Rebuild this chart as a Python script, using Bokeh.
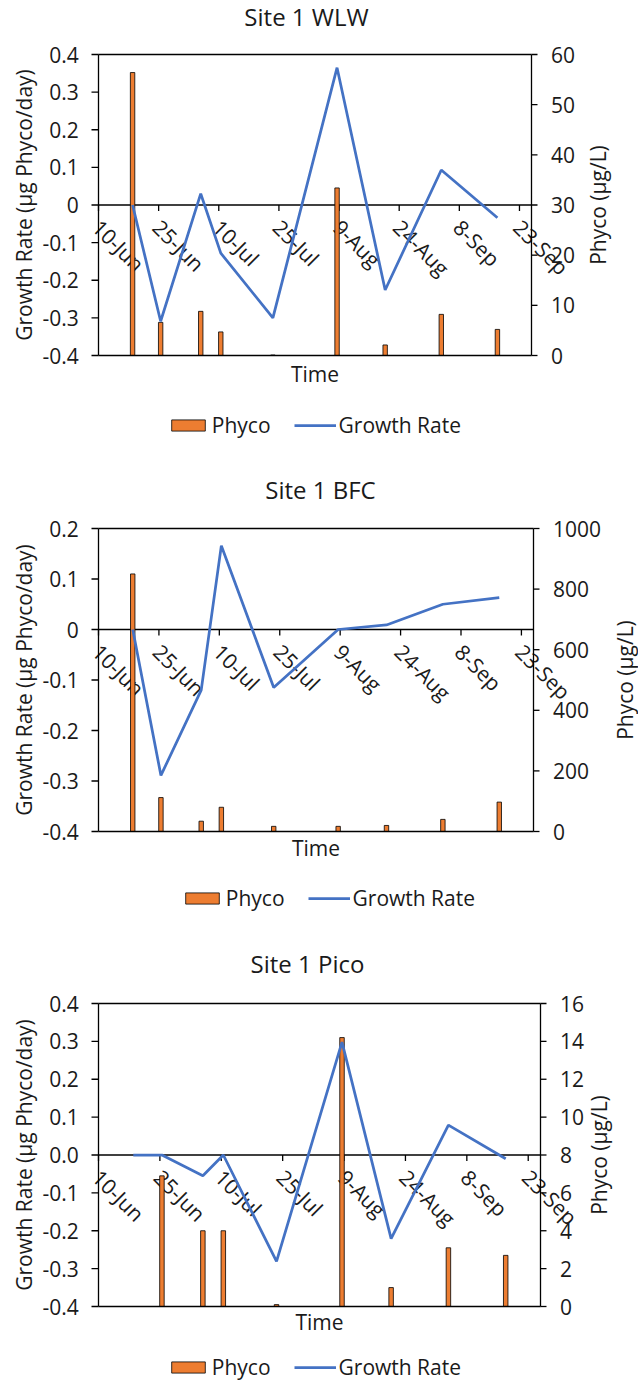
import math

import pandas as pd
from bokeh.core.properties import value
from bokeh.embed import file_html
from bokeh.layouts import column
from bokeh.models import Legend, LegendItem, Range1d
from bokeh.plotting import figure
from bokeh.resources import INLINE

FONT = "Open Sans"
TEXT = "#1a1a1a"
AXIS = "black"
BAR_COLOR = "#ED7D31"
LINE_COLOR = "#4472C4"
FIG_W = 638
BOX_LEFT = 98

# Sampling dates shared by the three sites, and the date axis
sample_dates = ["18-Jun", "25-Jun", "5-Jul", "10-Jul", "23-Jul", "8-Aug", "20-Aug", "3-Sep", "17-Sep"]
date_ticks = ["10-Jun", "25-Jun", "10-Jul", "25-Jul", "9-Aug", "24-Aug", "8-Sep", "23-Sep"]
axis_first_day = "10-Jun"
axis_last_day = "26-Sep"

# Site 1 WLW
wlw_growth = [0.0, -0.309, 0.030, -0.128, -0.300, 0.365, -0.226, 0.093, -0.034]
wlw_phyco = [56.4, 6.6, 8.8, 4.7, 0.1, 33.4, 2.1, 8.2, 5.2]
# Site 1 BFC
bfc_growth = [0.0, -0.289, -0.120, 0.166, -0.115, 0.0, 0.009, 0.050, 0.063]
bfc_phyco = [850, 112, 34, 80, 17, 17, 20, 40, 97]
# Site 1 Pico
pico_growth = [0.0, 0.0, -0.055, 0.0, -0.281, 0.298, -0.221, 0.079, -0.010]
pico_phyco = [0.0, 6.9, 4.0, 4.0, 0.1, 14.2, 1.0, 3.1, 2.7]

# Axis ticks and their labels
growth_ticks = [-0.4, -0.3, -0.2, -0.1, 0.0, 0.1, 0.2, 0.3, 0.4]
wlw_growth_labels = ["-0.4", "-0.3", "-0.2", "-0.1", "0", "0.1", "0.2", "0.3", "0.4"]
bfc_growth_ticks = [-0.4, -0.3, -0.2, -0.1, 0.0, 0.1, 0.2]
bfc_growth_labels = ["-0.4", "-0.3", "-0.2", "-0.1", "0", "0.1", "0.2"]
pico_growth_labels = ["-0.4", "-0.3", "-0.2", "-0.1", "0.0", "0.1", "0.2", "0.3", "0.4"]
wlw_phyco_ticks = [0, 10, 20, 30, 40, 50, 60]
bfc_phyco_ticks = [0, 200, 400, 600, 800, 1000]
pico_phyco_ticks = [0, 2, 4, 6, 8, 10, 12, 14, 16]


def days_since_start(labels):
    stamps = pd.to_datetime([f"{s}-2019" for s in labels], format="%d-%b-%Y")
    start = pd.to_datetime(f"{axis_first_day}-2019", format="%d-%b-%Y")
    return [int((t - start).days) for t in stamps]


# each sample sits in the middle of its one-day slot on the date axis
sample_x = [d + 0.5 for d in days_since_start(sample_dates)]
tick_x = days_since_start(date_ticks)
x_end = days_since_start([axis_last_day])[0]


def add_text(p, xs, ys, texts, size="21px", align="left", baseline="middle",
             angle=0.0, range_name="default"):
    p.text(x=xs, y=ys, text=texts, angle=angle, y_range_name=range_name,
           text_font=value(FONT), text_font_size=size, text_color=TEXT,
           text_align=align, text_baseline=baseline)


def make_panel(title, growth, phyco, g_ticks, g_labels, p_ticks, box,
               title_xy, right_title_x, time_drop, legend_xy):
    height, top, bottom, right = box
    g_lo, g_hi = g_ticks[0], g_ticks[-1]
    p_hi = p_ticks[-1]

    # pixel scales of the plotting box
    ppd = (right - BOX_LEFT) / x_end          # px per day
    ppu = (bottom - top) / (g_hi - g_lo)      # px per growth unit
    ppp = (bottom - top) / p_hi               # px per phyco unit

    def dx(px):
        return px / ppd

    def dy(px):
        return px / ppu

    p = figure(width=FIG_W, height=height, output_backend="svg", toolbar_location=None,
               x_range=Range1d(-dx(BOX_LEFT), x_end + dx(FIG_W - right)),
               y_range=Range1d(g_lo - dy(height - bottom), g_hi + dy(top)),
               x_axis_location=None, y_axis_location=None, min_border=0)
    p.extra_y_ranges = {"phyco": Range1d(-(height - bottom) / ppp, p_hi + top / ppp)}
    p.title = None
    p.grid.visible = False
    p.outline_line_color = None
    p.background_fill_color = "white"
    p.border_fill_color = "white"

    # date axis crossing at zero growth
    p.segment(x0=[0], y0=[0], x1=[x_end], y1=[0], line_color=AXIS, line_width=1.3)
    p.segment(x0=tick_x, y0=[0] * len(tick_x), x1=tick_x, y1=[-dy(6)] * len(tick_x),
              line_color=AXIS, line_width=1.3)
    add_text(p, [t - dx(2) for t in tick_x], [-dy(18.5)] * len(tick_x), date_ticks,
             angle=-math.pi / 4)

    # phycocyanin bars and growth-rate line
    bars = p.vbar(x=sample_x, width=1.1, bottom=0, top=phyco, y_range_name="phyco",
                  fill_color=BAR_COLOR, line_color="black", line_width=0.8)
    line = p.line(x=sample_x, y=growth, line_color=LINE_COLOR, line_width=2.75)

    # plotting box
    p.segment(x0=[0, x_end, 0, 0], y0=[g_lo, g_lo, g_lo, g_hi],
              x1=[0, x_end, x_end, x_end], y1=[g_hi, g_hi, g_lo, g_hi],
              line_color=AXIS, line_width=1.3)

    # left growth-rate axis
    p.segment(x0=[0] * len(g_ticks), y0=g_ticks, x1=[-dx(7)] * len(g_ticks), y1=g_ticks,
              line_color=AXIS, line_width=1.3)
    add_text(p, [-dx(19.7)] * len(g_ticks), g_ticks, g_labels, align="right")
    add_text(p, [-dx(BOX_LEFT - 23.5)], [(g_lo + g_hi) / 2], ["Growth Rate (µg Phyco/day)"],
             align="center", angle=math.pi / 2)

    # right phycocyanin axis
    p.segment(x0=[x_end] * len(p_ticks), y0=p_ticks, x1=[x_end + dx(6)] * len(p_ticks),
              y1=p_ticks, line_color=AXIS, line_width=1.3, y_range_name="phyco")
    add_text(p, [x_end + dx(19.5)] * len(p_ticks), p_ticks, [str(t) for t in p_ticks],
             range_name="phyco")
    add_text(p, [x_end + dx(right_title_x - right)], [(g_lo + g_hi) / 2], ["Phyco (µg/L)"],
             align="center", angle=math.pi / 2)

    # title and x caption
    title_x, title_y = title_xy
    add_text(p, [dx(title_x - BOX_LEFT)], [g_hi + dy(top - title_y + 1)], [title],
             size="24px", align="center")
    add_text(p, [x_end / 2], [g_lo - dy(time_drop + 1)], ["Time"], align="center")

    legend_x, legend_y = legend_xy
    legend = Legend(items=[LegendItem(label="Phyco", renderers=[bars]),
                           LegendItem(label="Growth Rate", renderers=[line])],
                    orientation="horizontal",
                    location=(legend_x - 4.2, height - legend_y - 14.5),
                    border_line_color=None, background_fill_alpha=0.0,
                    margin=0, padding=0, spacing=23, label_standoff=3,
                    glyph_width=42, glyph_height=14, label_height=29,
                    label_text_font=FONT, label_text_font_size="21px",
                    label_text_color=TEXT)
    p.add_layout(legend)
    return p


p1 = make_panel("Site 1 WLW", wlw_growth, wlw_phyco, growth_ticks, wlw_growth_labels,
                wlw_phyco_ticks, (460, 54, 355, 531), title_xy=(306, 17),
                right_title_x=597, time_drop=17.5, legend_xy=(171, 425))
p2 = make_panel("Site 1 BFC", bfc_growth, bfc_phyco, bfc_growth_ticks, bfc_growth_labels,
                bfc_phyco_ticks, (461, 68, 371, 533), title_xy=(320, 30),
                right_title_x=624, time_drop=15.5, legend_xy=(185, 438))
p3 = make_panel("Site 1 Pico", pico_growth, pico_phyco, growth_ticks, pico_growth_labels,
                pico_phyco_ticks, (462, 82, 385, 540), title_xy=(307, 43),
                right_title_x=598, time_drop=14.5, legend_xy=(171, 446))

page = column(p1, p2, p3, spacing=0)
open("out.html", "w").write(file_html(page, INLINE))
